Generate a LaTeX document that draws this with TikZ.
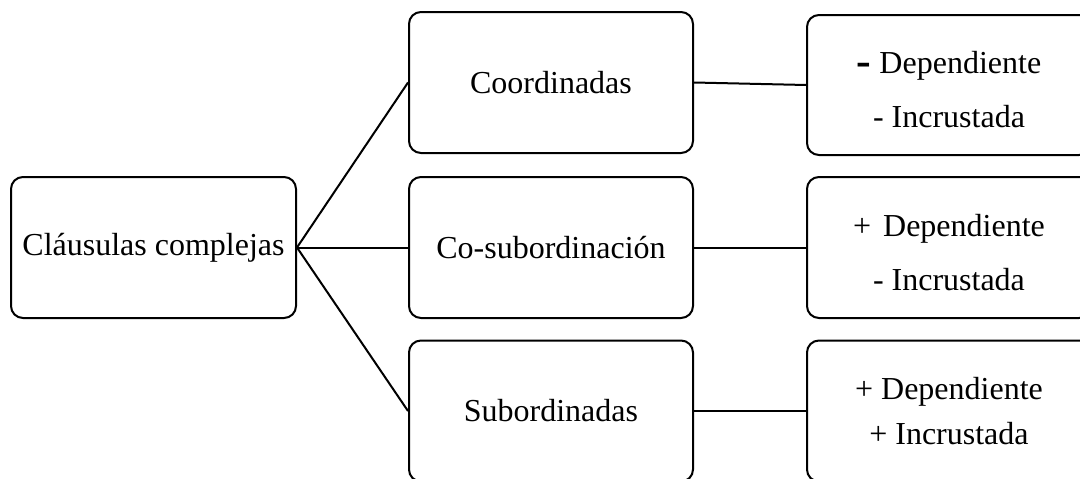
\documentclass[tikz,border=0pt]{standalone}
\usepackage{fontspec}
\setmainfont{Liberation Serif}
\begin{document}
\begin{tikzpicture}[x=1pt,y=-1pt,
  box/.style={draw=black,line width=2pt,rounded corners=12pt,rectangle,
    minimum width=284pt,minimum height=141pt,inner sep=0pt,align=center,
    font=\fontsize{32}{54}\selectfont},
  conn/.style={draw=black,line width=2pt}]
\useasboundingbox (0,0) rectangle (1080,479);
\clip (0,0) rectangle (1080,479);
\node[box,minimum width=285pt] (L) at (153.5,247.5) {Cláusulas complejas};
\node[box] (M1) at (551,82.5) {Coordinadas};
\node[box] (M2) at (551,247.5) {Co-subordinación};
\node[box] (M3) at (551,411) {Subordinadas};
\node[box,minimum height=140pt] (R1) at (949,85) {\rule{0pt}{31pt}\raisebox{-2pt}{\fontsize{44}{54}\selectfont\bfseries -}\ Dependiente\\- Incrustada};
\node[box] (R2) at (949,247.5) {\rule{0pt}{32pt}+\hspace{4pt} Dependiente\\- Incrustada};
\node[box,font=\fontsize{32}{45}\selectfont] (R3) at (949,411) {+ Dependiente\\+ Incrustada};
\draw[conn] (L.east) -- (M1.west);
\draw[conn] (L.east) -- (M2.west);
\draw[conn] (L.east) -- (M3.west);
\draw[conn] (M1.east) -- (R1.west);
\draw[conn] (M2.east) -- (R2.west);
\draw[conn] (M3.east) -- (R3.west);
\end{tikzpicture}
\end{document}
